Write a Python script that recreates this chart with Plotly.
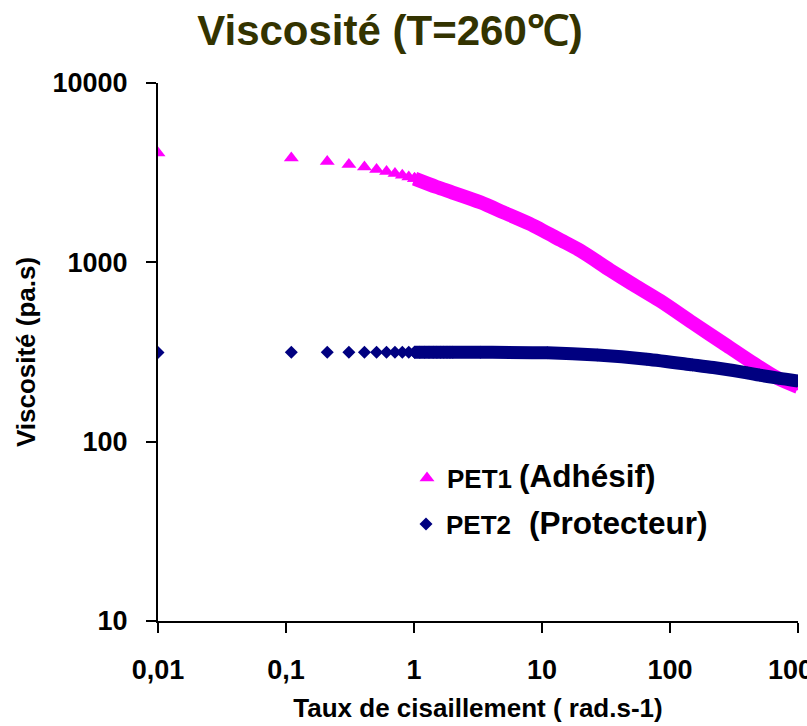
import plotly.graph_objects as go

# ---- data ----
pet1_x = [0.01, 0.11, 0.21, 0.31, 0.41, 0.51, 0.61, 0.71, 0.81, 0.91, 1.01,
          1.11, 1.21, 1.31, 1.41, 1.51, 1.61, 1.71, 1.81, 1.91, 2.01]
pet1_y = [4070, 3820, 3650, 3510, 3400, 3290, 3210, 3130, 3060, 2990, 2930,
          2870, 2800, 2730, 2680, 2630, 2590, 2550, 2510, 2480, 2450]
pet1_band_x = [1.01, 1.5, 2, 3.3, 5, 8, 14, 20, 34, 50, 84, 150, 280, 450, 685, 1000]
pet1_band_y = [2930, 2630, 2450, 2160, 1900, 1640, 1330, 1160, 906, 762, 609, 460, 342, 273, 227, 202]

pet2_x = [0.01, 0.11, 0.21, 0.31, 0.41, 0.51, 0.61, 0.71, 0.81, 0.91, 1.01,
          1.11, 1.21, 1.31, 1.41, 1.51, 1.61, 1.71, 1.81, 1.91, 2.01]
pet2_y = [314, 315, 315, 315, 315, 315, 315, 315, 315, 315, 315,
          315, 315, 315, 315, 315, 315, 315, 315, 315, 315]
pet2_band_x = [1.01, 3.3, 11, 27, 66, 150, 218, 400, 500, 700, 1000]
pet2_band_y = [315, 315, 313, 304, 288, 268, 259, 242, 235, 226, 218]

x_tickvals = [0.01, 0.1, 1, 10, 100, 1000]
x_ticktext = ["0,01", "0,1", "1", "10", "100", "1000"]
y_tickvals = [10, 100, 1000, 10000]
y_ticktext = ["10", "100", "1000", "10000"]

title_text = "Viscosité (T=260℃)"
x_title = "Taux de cisaillement ( rad.s-1)"
y_title = "Viscosité (pa.s)"
labels = ["PET1", "PET2"]
notes = ["(Adhésif)", "(Protecteur)"]

MAG = "#FF00FF"
NAVY = "#000080"
FONT = "Liberation Sans, Arial, sans-serif"

fig = go.Figure()

# PET1 band (dense overlapping markers)
fig.add_trace(go.Scatter(
    x=pet1_band_x, y=pet1_band_y, mode="lines+markers",
    line=dict(color=MAG, width=14, shape="spline", smoothing=0.8),
    marker=dict(symbol="triangle-up", size=13, color=MAG),
    showlegend=False, hoverinfo="skip"))
fig.add_trace(go.Scatter(
    x=pet1_x, y=pet1_y, mode="markers", name=labels[0],
    marker=dict(symbol="triangle-up", size=13, color=MAG), legend="legend"))

# PET2 band
fig.add_trace(go.Scatter(
    x=pet2_band_x, y=pet2_band_y, mode="lines+markers",
    line=dict(color=NAVY, width=13, shape="spline", smoothing=0.8),
    marker=dict(symbol="diamond", size=10, color=NAVY),
    showlegend=False, hoverinfo="skip"))
fig.add_trace(go.Scatter(
    x=pet2_x, y=pet2_y, mode="markers", name=labels[1],
    marker=dict(symbol="diamond", size=10, color=NAVY), legend="legend2"))

W, H = 807, 726
L, R, T, B = 158, 9, 83, 105
pw, ph = W - L - R, H - T - B

def px_x(p):
    return (p - L) / pw

def px_y(p):
    return (H - B - p) / ph

fig.update_layout(
    width=W, height=H,
    margin=dict(l=L, r=R, t=T, b=B, pad=0, autoexpand=False),
    paper_bgcolor="white", plot_bgcolor="white",
    font=dict(family=FONT, color="black", weight="bold"),
    title=dict(text=title_text, x=390 / W, xanchor="center", xref="container",
               y=1 - 30 / H, yanchor="middle", yref="container",
               font=dict(family=FONT, size=42, color="#333300", weight="bold")),
    xaxis=dict(type="log", range=[-2, 3], tickvals=x_tickvals, ticktext=x_ticktext,
               ticks="outside", ticklen=10, tickwidth=2, tickcolor="black",
               showline=True, linecolor="black", linewidth=2,
               showgrid=False, zeroline=False, ticklabelstandoff=14,
               ticklabeloverflow="allow", automargin=False,
               tickfont=dict(family=FONT, size=27, color="black", weight="bold"),
               title=dict(text=x_title, standoff=14,
                          font=dict(family=FONT, size=26, color="black", weight="bold"))),
    yaxis=dict(type="log", range=[1, 4], tickvals=y_tickvals, ticktext=y_ticktext,
               ticks="outside", ticklen=10, tickwidth=2, tickcolor="black",
               showline=True, linecolor="black", linewidth=2,
               showgrid=False, zeroline=False, ticklabelstandoff=13,
               ticklabeloverflow="allow", automargin=False,
               tickfont=dict(family=FONT, size=27, color="black", weight="bold"),
               title=dict(text=y_title, standoff=9,
                          font=dict(family=FONT, size=26, color="black", weight="bold"))),
    legend=dict(x=px_x(407), y=px_y(478), xanchor="left", yanchor="middle",
                bgcolor="rgba(0,0,0,0)", borderwidth=0,
                font=dict(family=FONT, size=26, color="black", weight="bold")),
    legend2=dict(x=px_x(406), y=px_y(524), xanchor="left", yanchor="middle",
                 bgcolor="rgba(0,0,0,0)", borderwidth=0,
                 font=dict(family=FONT, size=26, color="black", weight="bold")),
    annotations=[
        dict(text=notes[0], x=px_x(517), y=px_y(476), xref="paper", yref="paper",
             xanchor="left", yanchor="middle", showarrow=False,
             font=dict(family=FONT, size=31.5, color="black", weight="bold")),
        dict(text=notes[1], x=px_x(527), y=px_y(523), xref="paper", yref="paper",
             xanchor="left", yanchor="middle", showarrow=False,
             font=dict(family=FONT, size=31.5, color="black", weight="bold")),
    ],
)

fig.write_html("out.html")
